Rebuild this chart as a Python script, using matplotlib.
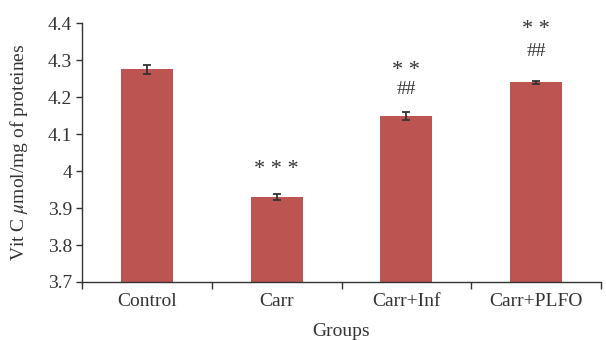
import matplotlib
matplotlib.use("Agg")
import matplotlib.pyplot as plt

plt.rcParams['font.family'] = ['Liberation Serif', 'DejaVu Serif']
plt.rcParams['mathtext.fontset'] = 'stix'

groups = ["Control", "Carr", "Carr+Inf", "Carr+PLFO"]
vitc = [4.275, 3.930, 4.149, 4.240]
sem = [0.012, 0.009, 0.010, 0.005]
stars = ["", "* * *", "* *", "* *"]
hashes = ["", "", "##", "##"]
star_y = [None, 4.005, 4.273, 4.383]
hash_y = [None, None, 4.222, 4.323]

bar_color = "#BC5452"
text_color = "#333333"
fs = 14

fig = plt.figure(figsize=(6.06, 3.40), dpi=100)
ax = fig.add_axes([0.1353, 0.1706, 0.8565, 0.7609])

x = list(range(len(groups)))
ax.bar(x, vitc, width=0.4, color=bar_color, zorder=2)
ax.errorbar(x, vitc, yerr=sem, fmt='none', ecolor=text_color,
            elinewidth=1.3, capsize=3, capthick=1.3, zorder=3)

for i in x:
    if stars[i]:
        ax.text(i, star_y[i], stars[i], ha='center', va='center',
                fontsize=fs + 2, color=text_color)
    if hashes[i]:
        ax.text(i, hash_y[i], hashes[i], ha='center', va='center',
                fontsize=fs, color=text_color)

ax.set_ylim(3.7, 4.4)
ax.set_xlim(-0.5, len(groups) - 0.5)
yt = [3.7, 3.8, 3.9, 4.0, 4.1, 4.2, 4.3, 4.4]
ax.set_yticks(yt)
ax.set_yticklabels([("%g" % v) for v in yt])

ax.set_xticks([i - 0.5 for i in range(len(groups) + 1)])
ax.set_xticklabels([])
ax.set_xticks(x, minor=True)
ax.set_xticklabels(groups, minor=True)
ax.tick_params(axis='x', which='minor', length=0, pad=8)
ax.tick_params(axis='x', which='major', length=5, width=1, color=text_color)
ax.tick_params(axis='y', length=4, width=1, color=text_color, pad=3)
ax.tick_params(which='both', labelsize=fs, labelcolor=text_color)

for s in ['top', 'right']:
    ax.spines[s].set_visible(False)
for s in ['left', 'bottom']:
    ax.spines[s].set_color(text_color)
    ax.spines[s].set_linewidth(1)

ax.set_xlabel("Groups", fontsize=fs, color=text_color, labelpad=9.5)
ax.set_ylabel(r"Vit C $\mu$mol/mg of proteines", fontsize=fs,
              color=text_color, labelpad=13)

fig.savefig("out.png", dpi=100)
